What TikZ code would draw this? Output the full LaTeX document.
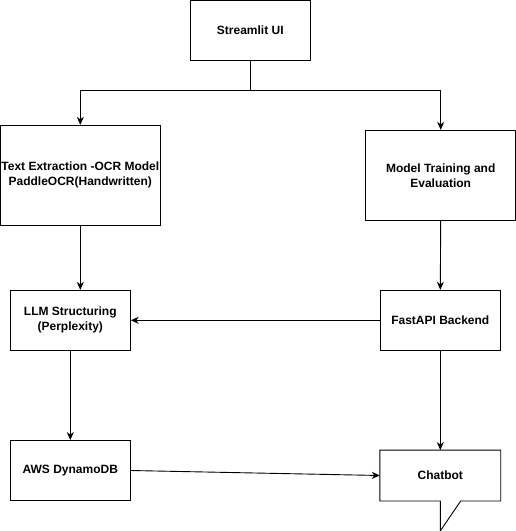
\documentclass[tikz,border=0pt]{standalone}
\usepackage{fontspec}
\setmainfont{Liberation Sans}
\usepackage{tikz}
\usetikzlibrary{calc}
\usetikzlibrary{arrows.meta}
\usetikzlibrary{positioning}

\tikzset{
    block/.style={draw=black, line width=0.9pt, fill=white, align=center,
        inner sep=0pt, font=\bfseries\fontsize{12}{15}\selectfont},
    flow/.style={draw=black, line width=0.9pt,
        -{Stealth[length=8pt, width=7pt, inset=2.5pt]}}
}

\begin{document}
\begin{tikzpicture}[x=1pt, y=-1pt]
            \useasboundingbox (0,0) rectangle (516,531);
            % upper row
            \node[block, minimum width=120pt, minimum height=60pt] (ui)    at (250.3,  30.2) {Streamlit UI};
            \node[block, minimum width=160pt, minimum height=100pt] (ocr)  at ( 80.3, 175.3) {Text Extraction -OCR Model\\PaddleOCR(Handwritten)};
            \node[block, minimum width=150pt, minimum height=90pt] (train) at (440.7, 175.3) {Model Training and\\Evaluation};
            % middle row
            \node[block, minimum width=120pt, minimum height=60pt] (llm)   at ( 70.3, 320.3) {LLM Structuring\\(Perplexity)};
            \node[block, minimum width=120pt, minimum height=60pt] (api)   at (440.3, 320.3) {FastAPI Backend};
            % lower row
            \node[block, minimum width=120pt, minimum height=60pt] (aws)   at ( 70.3, 470.5) {AWS DynamoDB};
            \node[block, draw=none, fill=none, minimum width=120pt, minimum height=50pt] (chat) at (440.3, 475.5) {Chatbot};
            \draw[line width=0.9pt] (chat.north west) -- (chat.north east) -- (chat.south east)
                 -- ($(chat.south)+(20.4,0)$) -- ($(chat.south)+(0,30)$) -- (chat.south)
                 -- (chat.south west) -- cycle;
            % connectors
            \coordinate (split) at ($(ui.south)+(0,29.8)$);
            \draw[line width=0.9pt] (ui.south) -- (split);
            \draw[flow] (split) -| (ocr.north);
            \draw[flow] (split) -| (train.north);
            \draw[flow] (ocr.south) -- (ocr.south |- llm.north);
            \draw[flow] (train.south) -- (api.north);
            \draw[flow] (api.west) -- (llm.east);
            \draw[flow] (llm.south) -- (aws.north);
            \draw[flow] (api.south) -- (chat.north);
            \draw[flow] (aws.east) -- (chat.west);
        \end{tikzpicture}
\end{document}
